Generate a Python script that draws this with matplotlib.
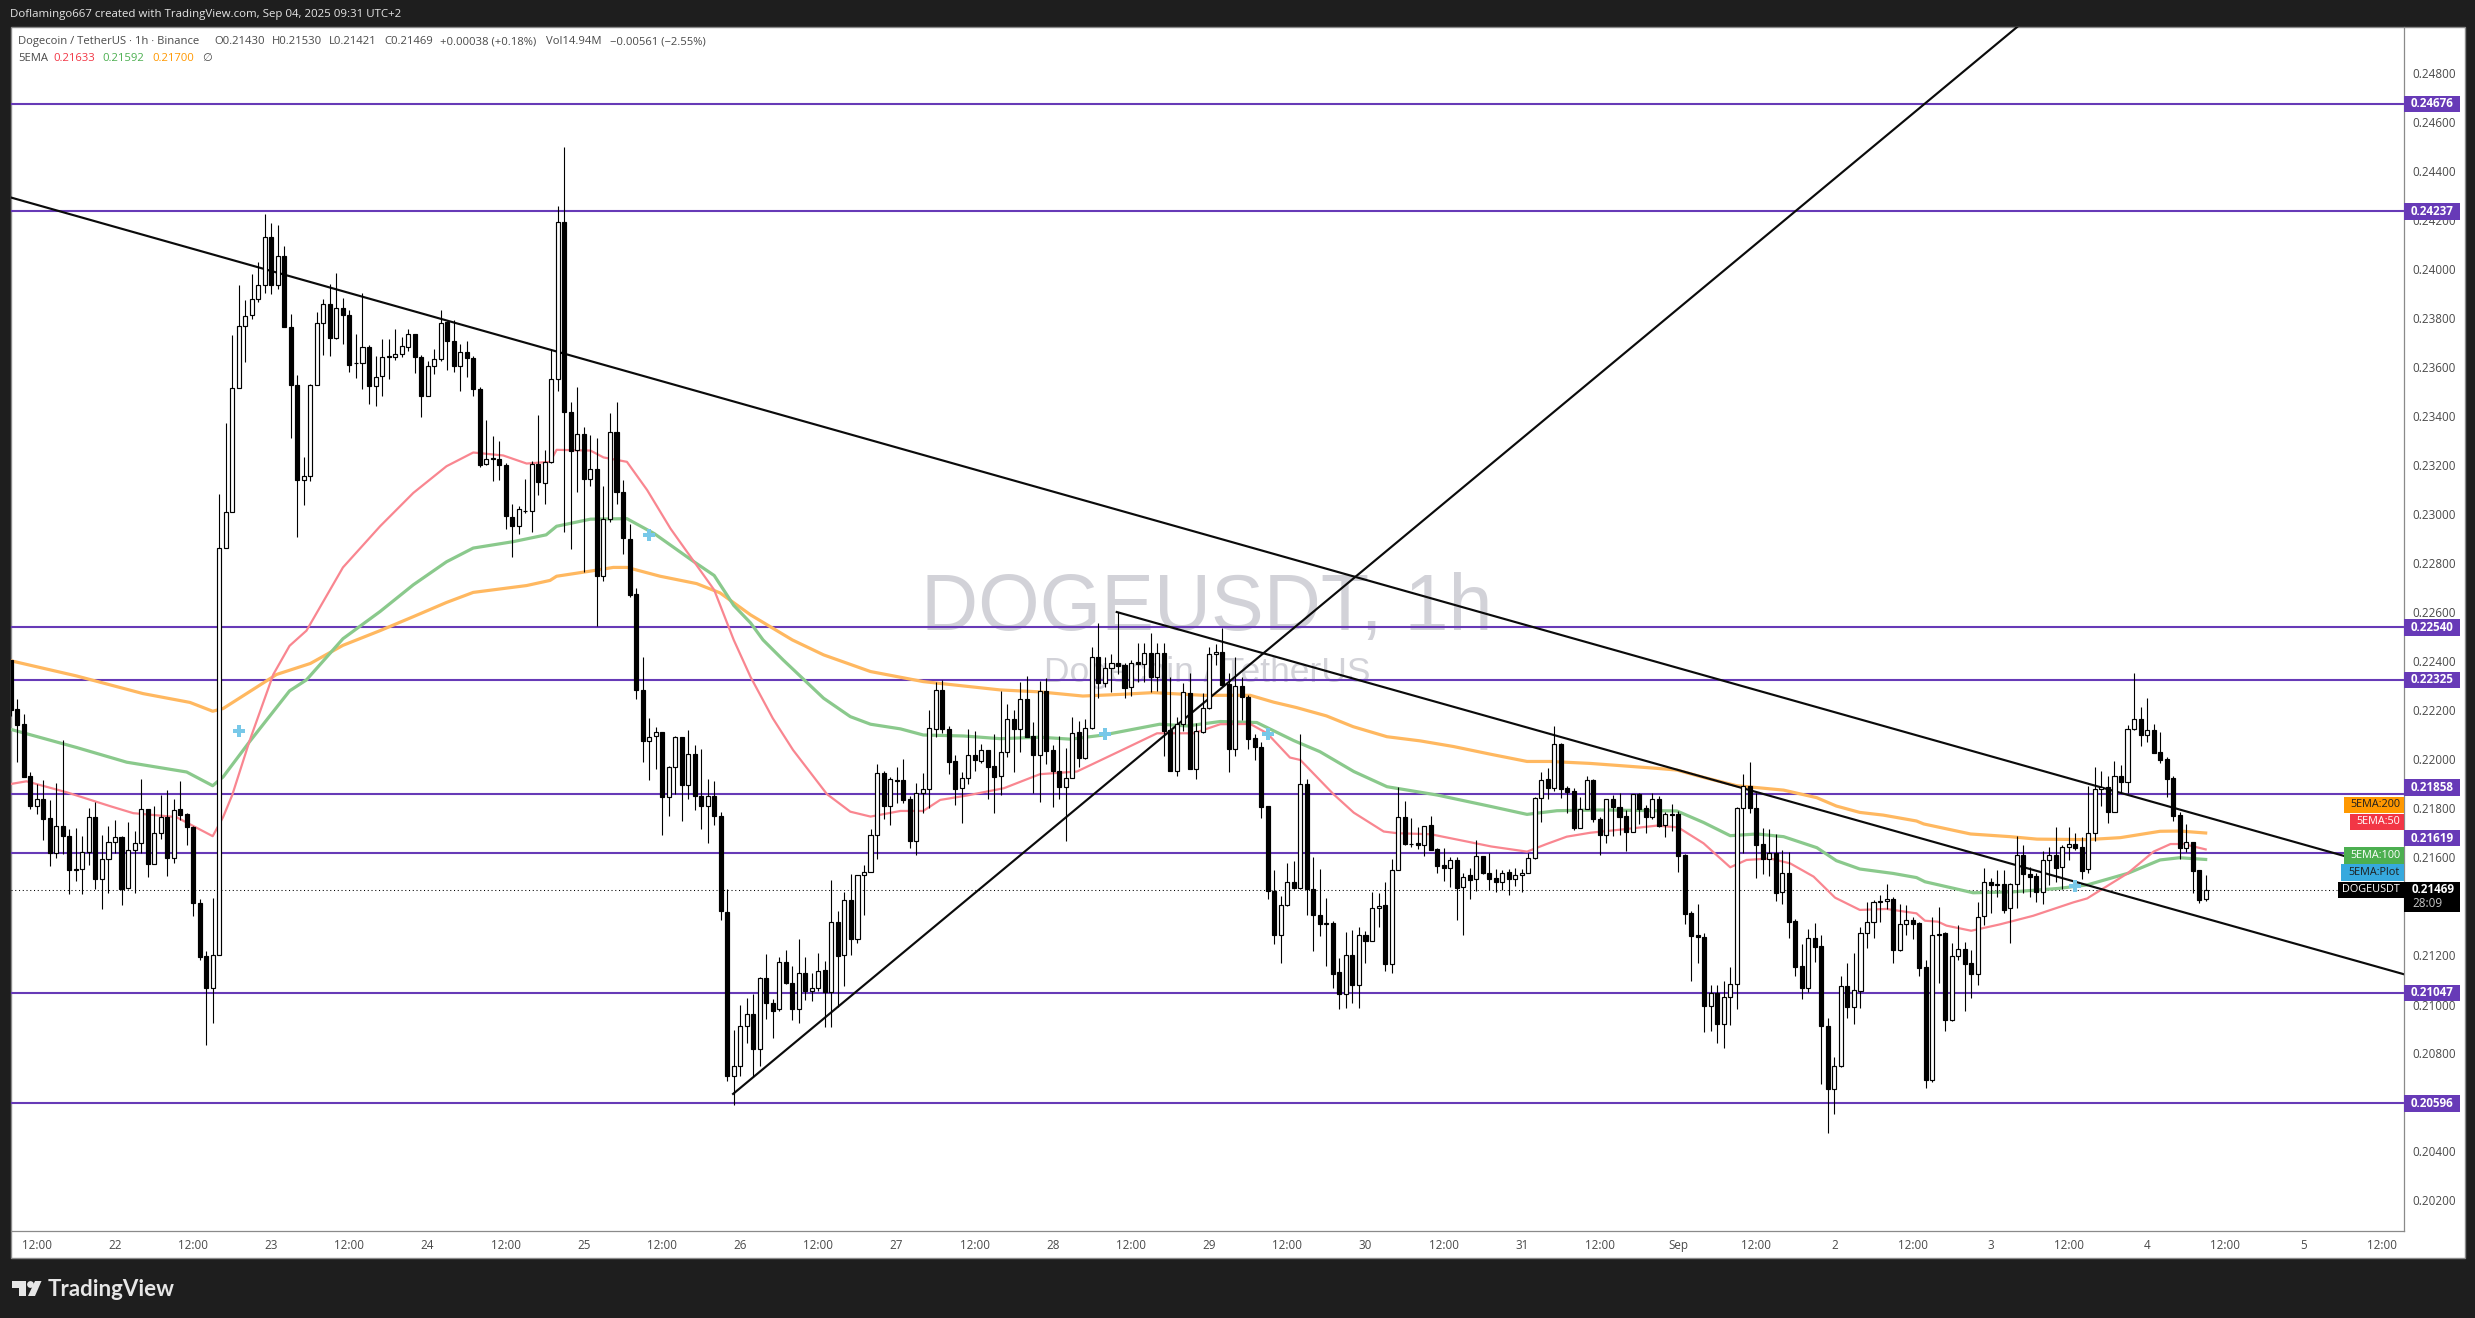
"""
DOGEUSDT 1h candles with EMAs, levels and trendlines.
"""
import matplotlib
matplotlib.use("Agg")
import matplotlib.pyplot as plt
from matplotlib.patches import Rectangle, Polygon, Circle
import numpy as np

plt.rcParams["font.family"] = ["Open Sans", "DejaVu Sans"]

W, H = 2475, 1318

# prices are kept in 1e-5 USDT, hour 0 is Aug 22 00:00
first_hour = -16
opens = [
    22408, 22206, 22146, 21933, 21812, 21839, 21761, 21617, 21729, 21687,
    21555, 21555, 21624, 21765, 21514, 21593, 21664, 21685, 21474, 21629,
    21658, 21796, 21575, 21702, 21767, 21599, 21799, 21776, 21723, 21416,
    21196, 21069, 21203, 22862, 23012, 23518, 23771, 23814, 23879, 23937,
    24132, 23937, 24056, 23767, 23527, 23142, 23158, 23527, 23780, 23859,
    23722, 23843, 23816, 23619, 23619, 23682, 23523, 23565, 23646, 23641,
    23657, 23685, 23738, 23644, 23483, 23606, 23634, 23784, 23710, 23606,
    23662, 23639, 23514, 23205, 23231, 23228, 23202, 22991, 22955, 23016,
    23016, 23205, 23128, 23213, 23552, 24192, 23417, 23264, 23327, 23144,
    23185, 22751, 22981, 23338, 23090, 22901, 22674, 22282, 22077, 22095,
    22111, 21845, 21968, 22090, 21894, 22024, 21850, 21812, 21853, 21769,
    21379, 20710, 20748, 20912, 20962, 20817, 21107, 21005, 20981, 21172,
    21087, 20983, 21128, 21057, 21069, 21140, 21049, 21336, 21200, 21425,
    21266, 21527, 21542, 21693, 21944, 21812, 21918, 21915, 21839, 21669,
    21862, 21878, 22123, 22283, 22123, 21993, 21883, 21923, 22017, 21993,
    22038, 21972, 21932, 22030, 22164, 22123, 22246, 22095, 22020, 22280,
    22038, 21952, 21889, 21923, 22111, 22005, 22127, 22417, 22314, 22372,
    22395, 22386, 22296, 22397, 22389, 22434, 22338, 22434, 22121, 21955,
    22144, 22270, 21963, 22114, 22209, 22430, 22438, 22307, 22044, 22299,
    22257, 22087, 22050, 21809, 21462, 21285, 21408, 21502, 21477, 21902,
    21470, 21367, 21328, 21334, 21132, 21042, 21200, 21079, 21283, 21261,
    21393, 21405, 21164, 21547, 21764, 21655, 21658, 21650, 21733, 21634,
    21568, 21559, 21590, 21478, 21527, 21511, 21605, 21536, 21515, 21502,
    21542, 21513, 21530, 21538, 21596, 21841, 21919, 21885, 22062, 21882,
    21870, 21722, 21799, 21915, 21756, 21693, 21837, 21805, 21768, 21705,
    21858, 21800, 21766, 21837, 21731, 21776, 21776, 21610, 21372, 21282,
    21274, 20995, 21045, 20922, 21029, 21085, 21800, 21890, 21800, 21654,
    21595, 21617, 21458, 21535, 21339, 21156, 21069, 21270, 21237, 20912,
    20654, 20750, 21074, 20991, 21056, 21290, 21338, 21420, 21421, 21429,
    21224, 21327, 21343, 21331, 21152, 20693, 21282, 21290, 20935, 21197,
    21225, 21168, 21123, 21360, 21500, 21490, 21490, 21392, 21490, 21609,
    21531, 21523, 21460, 21588, 21609, 21560, 21641, 21654, 21643, 21552,
    21699, 21878, 21888, 21787, 21931, 21909, 22123, 22164, 22101, 22119,
    22029, 22001, 21923, 21772, 21640, 21662, 21548, 21430,
]
closes = [
    22202, 22141, 21929, 21812, 21839, 21758, 21620, 21729, 21687, 21548,
    21550, 21624, 21765, 21512, 21593, 21664, 21685, 21472, 21629, 21658,
    21796, 21575, 21702, 21767, 21599, 21792, 21772, 21723, 21416, 21194,
    21069, 21203, 22862, 23012, 23518, 23771, 23809, 23879, 23937, 24132,
    23937, 24056, 23767, 23527, 23142, 23158, 23527, 23780, 23859, 23722,
    23843, 23816, 23612, 23617, 23682, 23523, 23563, 23644, 23641, 23654,
    23687, 23738, 23641, 23483, 23606, 23634, 23782, 23708, 23606, 23664,
    23639, 23514, 23202, 23225, 23225, 23200, 22993, 22952, 23021, 23014,
    23205, 23131, 23213, 23552, 24192, 23417, 23261, 23327, 23144, 23185,
    22751, 22981, 23338, 23090, 22904, 22672, 22282, 22077, 22093, 22113,
    21845, 21968, 22090, 21894, 22024, 21853, 21812, 21853, 21769, 21381,
    20710, 20748, 20912, 20963, 20817, 21107, 21008, 20975, 21172, 21089,
    20983, 21128, 21057, 21069, 21136, 21049, 21336, 21196, 21425, 21266,
    21527, 21542, 21693, 21944, 21812, 21919, 21914, 21835, 21669, 21862,
    21878, 22127, 22283, 22123, 21991, 21881, 21923, 22017, 21996, 22038,
    21971, 21928, 22030, 22164, 22126, 22246, 22093, 22020, 22280, 22036,
    21955, 21889, 21923, 22107, 22005, 22127, 22417, 22314, 22372, 22395,
    22383, 22293, 22395, 22389, 22434, 22338, 22434, 22118, 21955, 22144,
    22274, 21963, 22115, 22209, 22430, 22438, 22304, 22044, 22299, 22257,
    22085, 22050, 21808, 21462, 21285, 21408, 21502, 21477, 21902, 21470,
    21367, 21328, 21334, 21126, 21042, 21200, 21080, 21283, 21261, 21393,
    21400, 21164, 21547, 21764, 21654, 21654, 21650, 21727, 21631, 21567,
    21559, 21590, 21477, 21522, 21510, 21605, 21536, 21514, 21501, 21538,
    21513, 21530, 21538, 21596, 21841, 21917, 21885, 22062, 21881, 21868,
    21722, 21796, 21915, 21756, 21693, 21837, 21807, 21766, 21705, 21858,
    21799, 21766, 21837, 21728, 21776, 21775, 21607, 21371, 21281, 21274,
    20995, 21045, 20922, 21029, 21085, 21800, 21890, 21800, 21652, 21595,
    21617, 21456, 21535, 21338, 21154, 21069, 21270, 21236, 20913, 20654,
    20750, 21074, 20991, 21060, 21290, 21338, 21417, 21421, 21429, 21224,
    21327, 21343, 21330, 21150, 20693, 21282, 21289, 20938, 21197, 21225,
    21167, 21123, 21356, 21499, 21489, 21488, 21387, 21490, 21609, 21531,
    21522, 21460, 21588, 21609, 21558, 21641, 21654, 21640, 21546, 21699,
    21878, 21889, 21787, 21931, 21909, 22123, 22164, 22101, 22119, 22028,
    21999, 21922, 21771, 21640, 21662, 21546, 21428, 21469,
]
highs = [
    22408, 22247, 22184, 21949, 21900, 21917, 21835, 21904, 22079, 21716,
    21720, 21687, 21803, 21826, 21691, 21729, 21754, 21687, 21745, 21709,
    21920, 21799, 21810, 21857, 21875, 21839, 21911, 21781, 21727, 21432,
    21217, 21434, 23084, 23373, 23731, 23937, 23874, 23982, 24031, 24226,
    24190, 24181, 24094, 23818, 23568, 23236, 23532, 23825, 23881, 23941,
    23984, 23885, 23836, 23738, 23903, 23691, 23646, 23718, 23718, 23759,
    23725, 23759, 23738, 23649, 23626, 23677, 23835, 23789, 23794, 23695,
    23710, 23646, 23521, 23386, 23320, 23299, 23210, 23044, 23034, 23146,
    23220, 23407, 23264, 23677, 24259, 24498, 23458, 23521, 23356, 23325,
    23312, 23116, 23414, 23458, 23139, 22960, 22702, 22417, 22169, 22131,
    22113, 21973, 22095, 22093, 22121, 22060, 22044, 21922, 21912, 21787,
    21473, 20896, 20996, 21026, 21041, 21111, 21206, 21023, 21193, 21223,
    21157, 21268, 21193, 21128, 21209, 21176, 21508, 21382, 21458, 21533,
    21530, 21570, 21715, 21982, 21953, 21930, 21970, 22002, 21849, 21903,
    21944, 22202, 22315, 22325, 22136, 22017, 21948, 22125, 22117, 22064,
    22039, 22104, 22280, 22227, 22202, 22315, 22341, 22153, 22321, 22332,
    22058, 22095, 22046, 22174, 22156, 22164, 22459, 22557, 22417, 22431,
    22602, 22395, 22406, 22477, 22476, 22518, 22474, 22476, 22338, 22175,
    22311, 22352, 22151, 22270, 22460, 22471, 22537, 22353, 22420, 22338,
    22264, 22103, 22073, 21810, 21549, 21443, 21579, 21585, 22103, 21919,
    21604, 21552, 21434, 21341, 21189, 21295, 21304, 21315, 21300, 21458,
    21454, 21498, 21593, 21889, 21831, 21763, 21726, 21729, 21770, 21639,
    21638, 21600, 21604, 21536, 21556, 21670, 21606, 21617, 21553, 21551,
    21553, 21556, 21553, 21617, 21848, 21949, 21965, 22137, 22068, 21892,
    21882, 21845, 21932, 21919, 21766, 21840, 21855, 21862, 21794, 21859,
    21862, 21814, 21862, 21851, 21787, 21818, 21791, 21613, 21383, 21409,
    21290, 21079, 21079, 21096, 21152, 21805, 21941, 21990, 21864, 21720,
    21715, 21694, 21630, 21622, 21349, 21247, 21308, 21332, 21283, 20943,
    20784, 21116, 21169, 21211, 21318, 21418, 21426, 21447, 21492, 21440,
    21409, 21406, 21358, 21335, 21182, 21357, 21396, 21297, 21250, 21324,
    21255, 21222, 21418, 21556, 21515, 21549, 21549, 21494, 21688, 21650,
    21560, 21535, 21626, 21641, 21723, 21651, 21723, 21700, 21685, 21892,
    21968, 21953, 21933, 21992, 21976, 22139, 22352, 22214, 22251, 22145,
    22112, 22011, 21933, 21786, 21737, 21665, 21549, 21530,
]
lows = [
    22179, 21989, 21929, 21799, 21776, 21671, 21564, 21597, 21613, 21452,
    21503, 21452, 21570, 21472, 21391, 21456, 21620, 21405, 21470, 21456,
    21620, 21519, 21575, 21676, 21523, 21579, 21754, 21653, 21360, 21183,
    20834, 20926, 21203, 22862, 23012, 23518, 23623, 23796, 23868, 23903,
    23899, 23921, 23767, 23314, 22907, 23037, 23138, 23527, 23653, 23646,
    23718, 23697, 23583, 23556, 23514, 23449, 23444, 23483, 23554, 23631,
    23641, 23667, 23577, 23396, 23483, 23575, 23628, 23590, 23580, 23503,
    23560, 23483, 23195, 23202, 23136, 23141, 22942, 22827, 22922, 23006,
    22929, 23080, 23044, 23210, 23503, 22929, 22861, 23093, 22764, 23118,
    22544, 22728, 22968, 23044, 22840, 22664, 22248, 21988, 21917, 21960,
    21692, 21769, 21861, 21748, 21838, 21794, 21718, 21659, 21731, 21345,
    20687, 20588, 20710, 20843, 20705, 20751, 20939, 20864, 20975, 21083,
    20937, 20923, 21019, 21015, 21055, 20910, 20910, 20991, 21077, 21202,
    21250, 21366, 21540, 21593, 21759, 21733, 21824, 21821, 21640, 21609,
    21783, 21804, 22091, 22110, 21941, 21816, 21742, 21900, 21953, 21987,
    21840, 21782, 21855, 22012, 21949, 22031, 22091, 21862, 21827, 21982,
    21808, 21840, 21669, 21923, 21970, 22001, 22123, 22253, 22297, 22276,
    22349, 22253, 22261, 22315, 22318, 22277, 22280, 22016, 21955, 21934,
    22118, 21963, 21922, 22107, 22206, 22386, 22302, 21951, 22016, 22161,
    22044, 21998, 21763, 21432, 21247, 21171, 21400, 21470, 21470, 21367,
    21220, 21280, 21157, 21068, 20981, 20985, 21008, 20985, 21171, 21259,
    21318, 21138, 21130, 21547, 21649, 21642, 21635, 21608, 21631, 21536,
    21506, 21480, 21345, 21284, 21431, 21465, 21533, 21468, 21460, 21467,
    21448, 21483, 21460, 21538, 21595, 21746, 21839, 21873, 21844, 21783,
    21712, 21719, 21798, 21746, 21611, 21660, 21689, 21693, 21628, 21704,
    21735, 21701, 21756, 21726, 21685, 21708, 21541, 21330, 21097, 21171,
    20888, 20893, 20844, 20824, 20916, 20983, 21620, 21783, 21517, 21532,
    21526, 21422, 21411, 21273, 21117, 21024, 21051, 21175, 20677, 20477,
    20554, 20746, 20946, 20922, 20987, 21231, 21273, 21338, 21388, 21171,
    21220, 21284, 21266, 21116, 20660, 20685, 21089, 20893, 20934, 21182,
    20973, 21028, 21079, 21324, 21375, 21440, 21372, 21252, 21392, 21456,
    21440, 21420, 21411, 21488, 21501, 21470, 21590, 21631, 21512, 21538,
    21669, 21810, 21742, 21787, 21865, 21862, 22120, 22056, 22071, 22028,
    21987, 21848, 21750, 21594, 21624, 21454, 21416, 21421,
]

ema200_hours = [-16, -5.9, 4.3, 11.5, 15, 16.6, 24.8, 30, 35, 40.7, 45.8, 50.9, 55, 63.2, 66.8, 67.8, 73.5, 76.5, 78.6,
                83.7, 89.3, 92.9, 97.6, 104, 108.8, 116, 124.1, 135.9, 142, 148.6, 154.5, 159.4, 167.1, 174.3, 177.9,
                181.4, 186, 190.1, 195.3, 200.4, 205.5, 211.3, 216.8, 220.3, 226.5, 236.7, 239.8, 243.9, 249, 256.2,
                261.3, 264.3, 267.9, 271.5, 276.6, 277.7, 284.9, 291, 295.1, 302.8, 307.9, 314, 317, 321]
ema200_values = [22403, 22341, 22269, 22233, 22197, 22208, 22347, 22392, 22466, 22526, 22583, 22641, 22682, 22710, 22731, 22748, 22771, 22784, 22784,
                 22748, 22718, 22680, 22590, 22488, 22427, 22359, 22318, 22284, 22276, 22259, 22266, 22273, 22262, 22262, 22234,
                 22212, 22178, 22134, 22093, 22076, 22053, 22021, 21992, 21992, 21984, 21964, 21957, 21927, 21893, 21875,
                 21844, 21810, 21784, 21773, 21749, 21737, 21696, 21685, 21675, 21673, 21681, 21707, 21708, 21700]

ema100_hours = [-16, -5.9, 1.8, 11, 15, 16.6, 20.7, 26.8, 29.4, 35, 40.7, 45.8, 50.9, 55, 61.1, 66.2, 67.8, 73, 78.6, 82.8,
                88.9, 92, 95, 97.6, 99.5, 102.6, 108.8, 112.9, 116, 120.6, 124.1, 130.3, 135.9, 142, 146.7, 151.8, 154.5,
                160.4, 164.6, 169.7, 175.3, 181, 185, 190.2, 195.3, 203, 211.3, 216.8, 221.4, 228, 239.8, 243.9, 248,
                252.1, 256.2, 261.3, 264.3, 267.9, 273, 276.6, 277.9, 285.3, 291.5, 298.5, 302.8, 309, 314, 317, 321]
ema100_values = [22123, 22049, 21989, 21949, 21893, 21929, 22074, 22280, 22325, 22493, 22604, 22713, 22807, 22863, 22889, 22917, 22952, 22981, 22983, 22922,
                 22807, 22751, 22629, 22557, 22488, 22406, 22250, 22175, 22144, 22125, 22100, 22096, 22085, 22091, 22083, 22100, 22114,
                 22144, 22137, 22155, 22151, 22077, 22032, 21951, 21889, 21855, 21808, 21776, 21791, 21794, 21790, 21743, 21689,
                 21696, 21685, 21640, 21587, 21553, 21535, 21518, 21501, 21456, 21460, 21474, 21488, 21535, 21590, 21599, 21592]

ema50_hours = [-16, -13.6, -7.4, -0.8, 2.8, 9.4, 15, 16.6, 18, 20.7, 24.3, 26.8, 29.4, 35, 40.7, 45.8, 50.9, 55, 59.6, 63.2,
               66.8, 67.8, 73, 75, 78.6, 81.7, 85.3, 92, 95, 97.6, 101, 104.1, 109.3, 112.9, 116, 120.6, 124.1, 126.7,
               130.8, 136.5, 142, 147.7, 154.5, 160, 165.6, 169.7, 174.3, 176.9, 180.4, 182, 187.1, 190.2, 194.8, 196.9,
               202, 207.6, 211.3, 216.8, 219.8, 222.9, 226.5, 231.6, 236.7, 240, 243.9, 248, 250.5, 254.1, 257.2, 260.8,
               264.1, 267.9, 272, 276.6, 277.9, 279.9, 281.2, 285, 289.4, 294.5, 300.7, 302.8, 309, 313, 315.6, 317.6, 321]
ema50_values = [21900, 21911, 21866, 21810, 21781, 21765, 21687, 21765, 21855, 22079, 22347, 22464, 22526, 22784, 22952, 23088, 23197, 23253, 23241, 23208,
                23215, 23264, 23261, 23233, 23215, 23100, 22942, 22692, 22488, 22336, 22168, 22039, 21859, 21787, 21767, 21790, 21790, 21835,
                21853, 21883, 21940, 21951, 22037, 22107, 22107, 22144, 22145, 22107, 22008, 21998, 21858, 21783, 21706, 21699,
                21695, 21665, 21645, 21624, 21655, 21685, 21701, 21715, 21730, 21723, 21658, 21560, 21590, 21596, 21576, 21522,
                21436, 21386, 21390, 21372, 21342, 21338, 21322, 21301, 21327, 21362, 21417, 21433, 21535, 21624, 21655, 21655, 21633]

levels = [0.24676, 0.24237, 0.22540, 0.22325, 0.21858, 0.21619, 0.21047, 0.20596]
# where the axis tag of each level sits (two were pushed up to avoid overlap)
level_tag_prices = [0.24676, 0.24237, 0.22540, 0.22325, 0.21885, 0.21679, 0.21047, 0.20596]
last_price = 0.21469

trend_down_long = ([-16, 351.5], [0.24294, 0.21537])
trend_up = ([94.9, 294], [0.20635, 0.25033])
trend_down_short = ([153.8, 351.5], [0.22602, 0.21123])

plus_hours = [19, 82, 152, 177, 301]
plus_prices = [0.22118, 0.22916, 0.22103, 0.22104, 0.21485]

# 0.21400 sits under the last price tag, so it never shows
price_ticks = [round(0.202 + 0.002 * i, 3) for i in range(24) if round(0.202 + 0.002 * i, 3) != 0.214]
time_ticks = list(range(-12, 349, 12))
day_names = {0: "22", 24: "23", 48: "24", 72: "25", 96: "26", 120: "27", 144: "28", 168: "29",
             192: "30", 216: "31", 240: "Sep", 264: "2", 288: "3", 312: "4", 336: "5"}

PURPLE = "#673ab7"
AXIS_TEXT = "#4a4a4a"
BG = "#1e1e1e"

# geometry of the picture, in pixels
left, right, top, bottom = 11, 2404, 27, 1231
px_per_hour = 6.513
hour0_x = 115
px_per_price = 24500


def y_px(price):
    return 661.5 + (0.224 - price) * px_per_price


fig = plt.figure(figsize=(W / 100, H / 100), dpi=100, facecolor=BG)

back = fig.add_axes([0, 0, 1, 1], zorder=0)
back.set_xlim(0, W)
back.set_ylim(H, 0)
back.axis("off")
back.add_patch(Rectangle((left, top), 2465 - left, 1258 - top, facecolor="white", edgecolor="#8a8a8a", lw=1))

ax = fig.add_axes([left / W, 1 - bottom / H, (right - left) / W, (bottom - top) / H], zorder=1)
ax.patch.set_alpha(0)
ax.set_xlim((left - hour0_x) / px_per_hour, (right - hour0_x) / px_per_hour)
ax.set_ylim(0.224 - (bottom - 661.5) / px_per_price, 0.224 + (661.5 - top) / px_per_price)

over = fig.add_axes([0, 0, 1, 1], zorder=2)
over.set_xlim(0, W)
over.set_ylim(H, 0)
over.axis("off")

for side in ["top", "left"]:
    ax.spines[side].set_visible(False)
for side in ["right", "bottom"]:
    ax.spines[side].set_color("#8a8a8a")
    ax.spines[side].set_linewidth(0.9)

ax.yaxis.tick_right()
ax.set_yticks(price_ticks)
ax.set_yticklabels([f"{p:.5f}" for p in price_ticks])
ax.set_xticks(time_ticks)
ax.set_xticklabels([day_names.get(t, "12:00") for t in time_ticks])
ax.tick_params(axis="y", length=0, pad=6, labelsize=8.4, labelcolor=AXIS_TEXT)
ax.tick_params(axis="x", length=0, pad=6, labelsize=8.4, labelcolor=AXIS_TEXT)

# watermark
back.text(1207, 630, "DOGEUSDT, 1h", fontsize=57, family="Liberation Sans", color="#d2d2d8", ha="center", va="baseline")
back.text(1207, 682, "Dogecoin / TetherUS", fontsize=25.5, family="Liberation Sans", color="#d2d2d8", ha="center", va="baseline")

# levels, last price line
for lev in levels:
    ax.axhline(lev, color=PURPLE, lw=1.5, zorder=1.5)
ax.plot([ax.get_xlim()[0], (2337 - hour0_x) / px_per_hour], [last_price, last_price],
        color="black", lw=0.75, ls=(0, (1, 2.6)), zorder=1.6)

# EMAs
ax.plot(ema200_hours, np.array(ema200_values) / 1e5, color="#ffb860", lw=2.3, zorder=2)
ax.plot(ema100_hours, np.array(ema100_values) / 1e5, color="#8ac98c", lw=2.3, zorder=2)
ax.plot(ema50_hours, np.array(ema50_values) / 1e5, color="#f98690", lw=1.6, zorder=2)

# trendlines
for xs, ys in [trend_down_long, trend_up, trend_down_short]:
    ax.plot(xs, ys, color="#0b0b0b", lw=1.55, zorder=2.5)

# candles
o = np.array(opens) / 1e5
c = np.array(closes) / 1e5
hi = np.array(highs) / 1e5
lo = np.array(lows) / 1e5
hours = first_hour + np.arange(len(o))
up = c >= o
ax.vlines(hours, lo, hi, color="black", lw=0.8, zorder=3)
ax.bar(hours, np.abs(c - o), bottom=np.minimum(o, c), width=0.62, linewidth=0.85,
       color=np.where(up, "white", "black"), edgecolor="black", zorder=4)

ax.plot(plus_hours, plus_prices, ls="none", marker="P", ms=9, color="#78c8e8", mew=0, zorder=5)

# axis tags
for lev, tag in zip(levels, level_tag_prices):
    yc = y_px(tag)
    over.add_patch(Rectangle((2404, yc - 8.3), 56, 16.6, facecolor=PURPLE, edgecolor="none"))
    over.text(2432, yc, f"{lev:.5f}", color="white", fontsize=8.4, fontweight="bold", ha="center", va="center")

side_tags = [
    ("5EMA:200", 2344, 804.7, "#ff9800", "#1e1e1e"),
    ("5EMA:50", 2350, 822, "#f23645", "white"),
    ("5EMA:100", 2344, 855.5, "#4caf50", "white"),
    ("5EMA:Plot", 2340.5, 872.5, "#36a9de", "#1e1e1e"),
    ("DOGEUSDT", 2337.5, 889.7, "black", "white"),
]
for label, x0, yc, bg, fg in side_tags:
    over.add_patch(Rectangle((x0, yc - 8.2), 2403.5 - x0, 16.4, facecolor=bg, edgecolor="none"))
    over.text(2400, yc, label, color=fg, fontsize=7.8, ha="right", va="center")

over.add_patch(Rectangle((2404, 881.7), 56, 30, facecolor="black", edgecolor="none"))
over.text(2412, 889.5, "0.21469", color="white", fontsize=8.4, fontweight="bold", ha="left", va="center")
over.text(2412, 903.5, "28:09", color="#c8c8c8", fontsize=8.4, ha="left", va="center")

# header and legend
over.text(10, 15, "Doflamingo667 created with TradingView.com, Sep 04, 2025 09:31 UTC+2",
          color="#e4e4e4", fontsize=8.25, ha="left", va="center")
legend_line = [
    ("Dogecoin / TetherUS · 1h · Binance", 18),
    ("O0.21430", 214),
    ("H0.21530", 271.6),
    ("L0.21421", 328.4),
    ("C0.21469", 384),
    ("+0.00038 (+0.18%)", 440.5),
    ("Vol14.94M", 545.8),
    ("−0.00561 (−2.55%)", 609.5),
]
for label, x0 in legend_line:
    over.text(x0, 41.7, label, color="#4a4a4a", fontsize=8.1, ha="left", va="center")
ema_legend = [
    ("5EMA", 18, "#4a4a4a"),
    ("0.21633", 53.7, "#f23645"),
    ("0.21592", 102.6, "#4caf50"),
    ("0.21700", 152.6, "#ff9800"),
    ("∅", 202.6, "#4a4a4a"),
]
for label, x0, col in ema_legend:
    over.text(x0, 58.7, label, color=col, fontsize=8.1, ha="left", va="center")

# footer logo
logo = "#e6e6e6"
over.add_patch(Polygon([(12, 1281), (26, 1281), (26, 1296), (19, 1296), (19, 1288), (12, 1288)], facecolor=logo, edgecolor="none"))
over.add_patch(Circle((30.5, 1284.5), 3.4, facecolor=logo, edgecolor="none"))
over.add_patch(Polygon([(35, 1281), (41.5, 1281), (35, 1296), (28, 1296)], facecolor=logo, edgecolor="none"))
over.text(48, 1289, "TradingView", color=logo, fontsize=16, family="Lato", fontweight="bold", ha="left", va="center")

fig.savefig("out.png", dpi=100, facecolor=BG)
plt.close(fig)
